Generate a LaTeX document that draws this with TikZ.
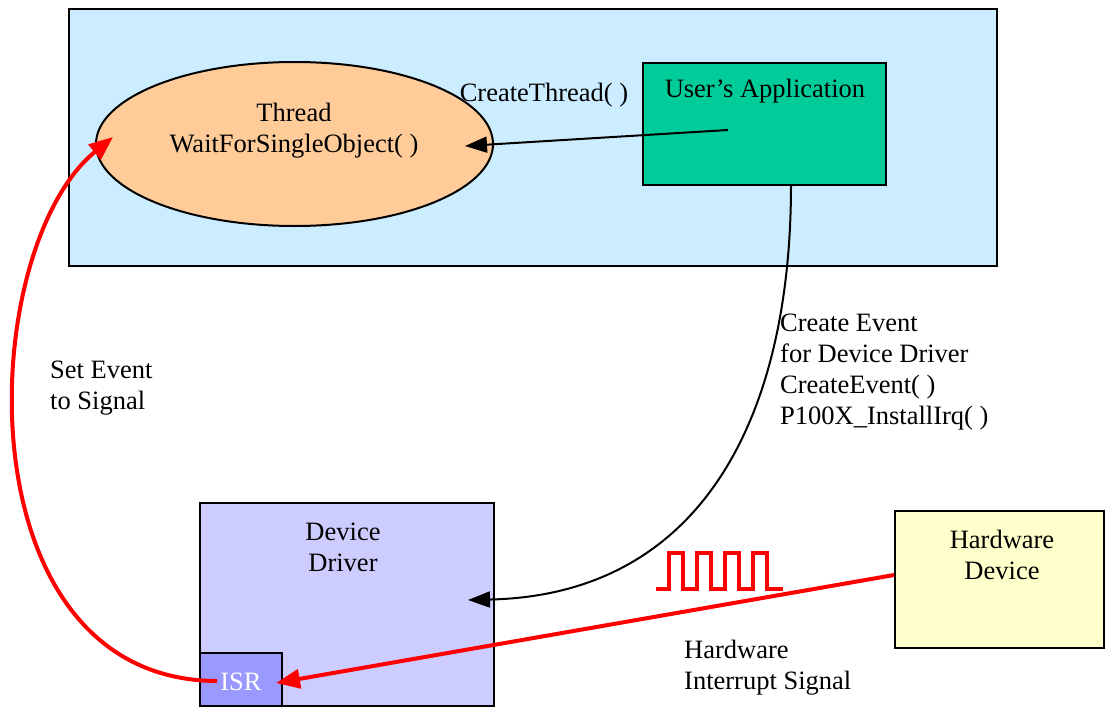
\documentclass[tikz,border=0pt]{standalone}
\usepackage{fontspec}
\setmainfont{Liberation Serif}
\usepackage{tikz}
\usetikzlibrary{arrows.meta,shapes.geometric}

\definecolor{paneblue}{HTML}{CCECFF}
\definecolor{threadorange}{HTML}{FFCC99}
\definecolor{appgreen}{HTML}{00CC99}
\definecolor{driverblue}{HTML}{CCCCFF}
\definecolor{isrblue}{HTML}{9999FF}
\definecolor{hwyellow}{HTML}{FFFFCC}

\begin{document}
\begin{tikzpicture}[x=1pt,y=-1pt,
  font=\fontsize{26.5}{31}\selectfont,
  box/.style={draw,line width=2pt,inner sep=0pt},
  txt/.style={inner sep=0pt},
  callarrow/.style={line width=2pt,-{Triangle[length=22pt,width=16pt]}},
  sigarrow/.style={red,line width=4pt,-{Triangle[length=24pt,width=19pt]}}]
  \useasboundingbox (0,0) rectangle (1106,707);
  % user mode area
  \node[box,fill=paneblue,minimum width=928pt,minimum height=257pt] (pane) at (533,137.5) {};
  \node[box,ellipse,fill=threadorange,minimum width=397pt,minimum height=164pt] (thread) at (294.5,144) {};
  \node[txt,align=center] (threadtxt) at (294,131) {Thread\\WaitForSingleObject( )};
  \node[box,fill=appgreen,minimum width=243pt,minimum height=122pt] (app) at (764.5,124) {};
  \node[txt] (apptxt) at (765,91) {User’s Application};
  \node[txt] (createthread) at (544,95) {CreateThread( )};
  % kernel side
  \node[box,fill=driverblue,minimum width=294pt,minimum height=203pt] (driver) at (347,604.5) {};
  \node[txt,align=center] (drivertxt) at (343,547) {Device\\Driver};
  \node[box,fill=isrblue,minimum width=82pt,minimum height=53pt] (isr) at (241,679.5) {};
  \node[txt,white] (isrtxt) at (241,682) {ISR};
  \node[box,fill=hwyellow,minimum width=209pt,minimum height=137pt] (hw) at (999.5,579.5) {};
  \node[txt,align=center] (hwtxt) at (1002,555) {Hardware\\Device};
  % labels
  \node[txt,anchor=west,align=left] (eventlbl) at (780,372) {Create Event\\for Device Driver\\CreateEvent( )\\P100X\_InstallIrq( )};
  \node[txt,anchor=west,align=left] (setlbl) at (50,388) {Set Event\\to Signal};
  \node[txt,anchor=west,align=left] (irqlbl) at (684,668) {Hardware\\Interrupt Signal};
  % connectors
  \coordinate (appin) at (728,130);
  \coordinate (threadin) at (465,146);
  \coordinate (appout) at (791,185);
  \coordinate (driverin) at (468,600);
  \coordinate (isrout) at (217,681);
  \coordinate (threadleft) at (113,137);
  \coordinate (isrin) at (276,683);
  \draw[callarrow] (appin) -- (threadin);
  \draw[callarrow] (appout) .. controls (791,420) and (700,595) .. (driverin);
  \draw[sigarrow] (isrout) .. controls (-40,680) and (-25,250) .. (threadleft);
  \draw[sigarrow] (hw.west |- 0,575) -- (isrin);
  % interrupt pulses
  \draw[red,line width=3.5pt] (656,589) \foreach \x in {669,697,725,753} {-- (\x,589) -- (\x,553) -- (\x+14,553) -- (\x+14,589)} -- (783,589);
\end{tikzpicture}
\end{document}
